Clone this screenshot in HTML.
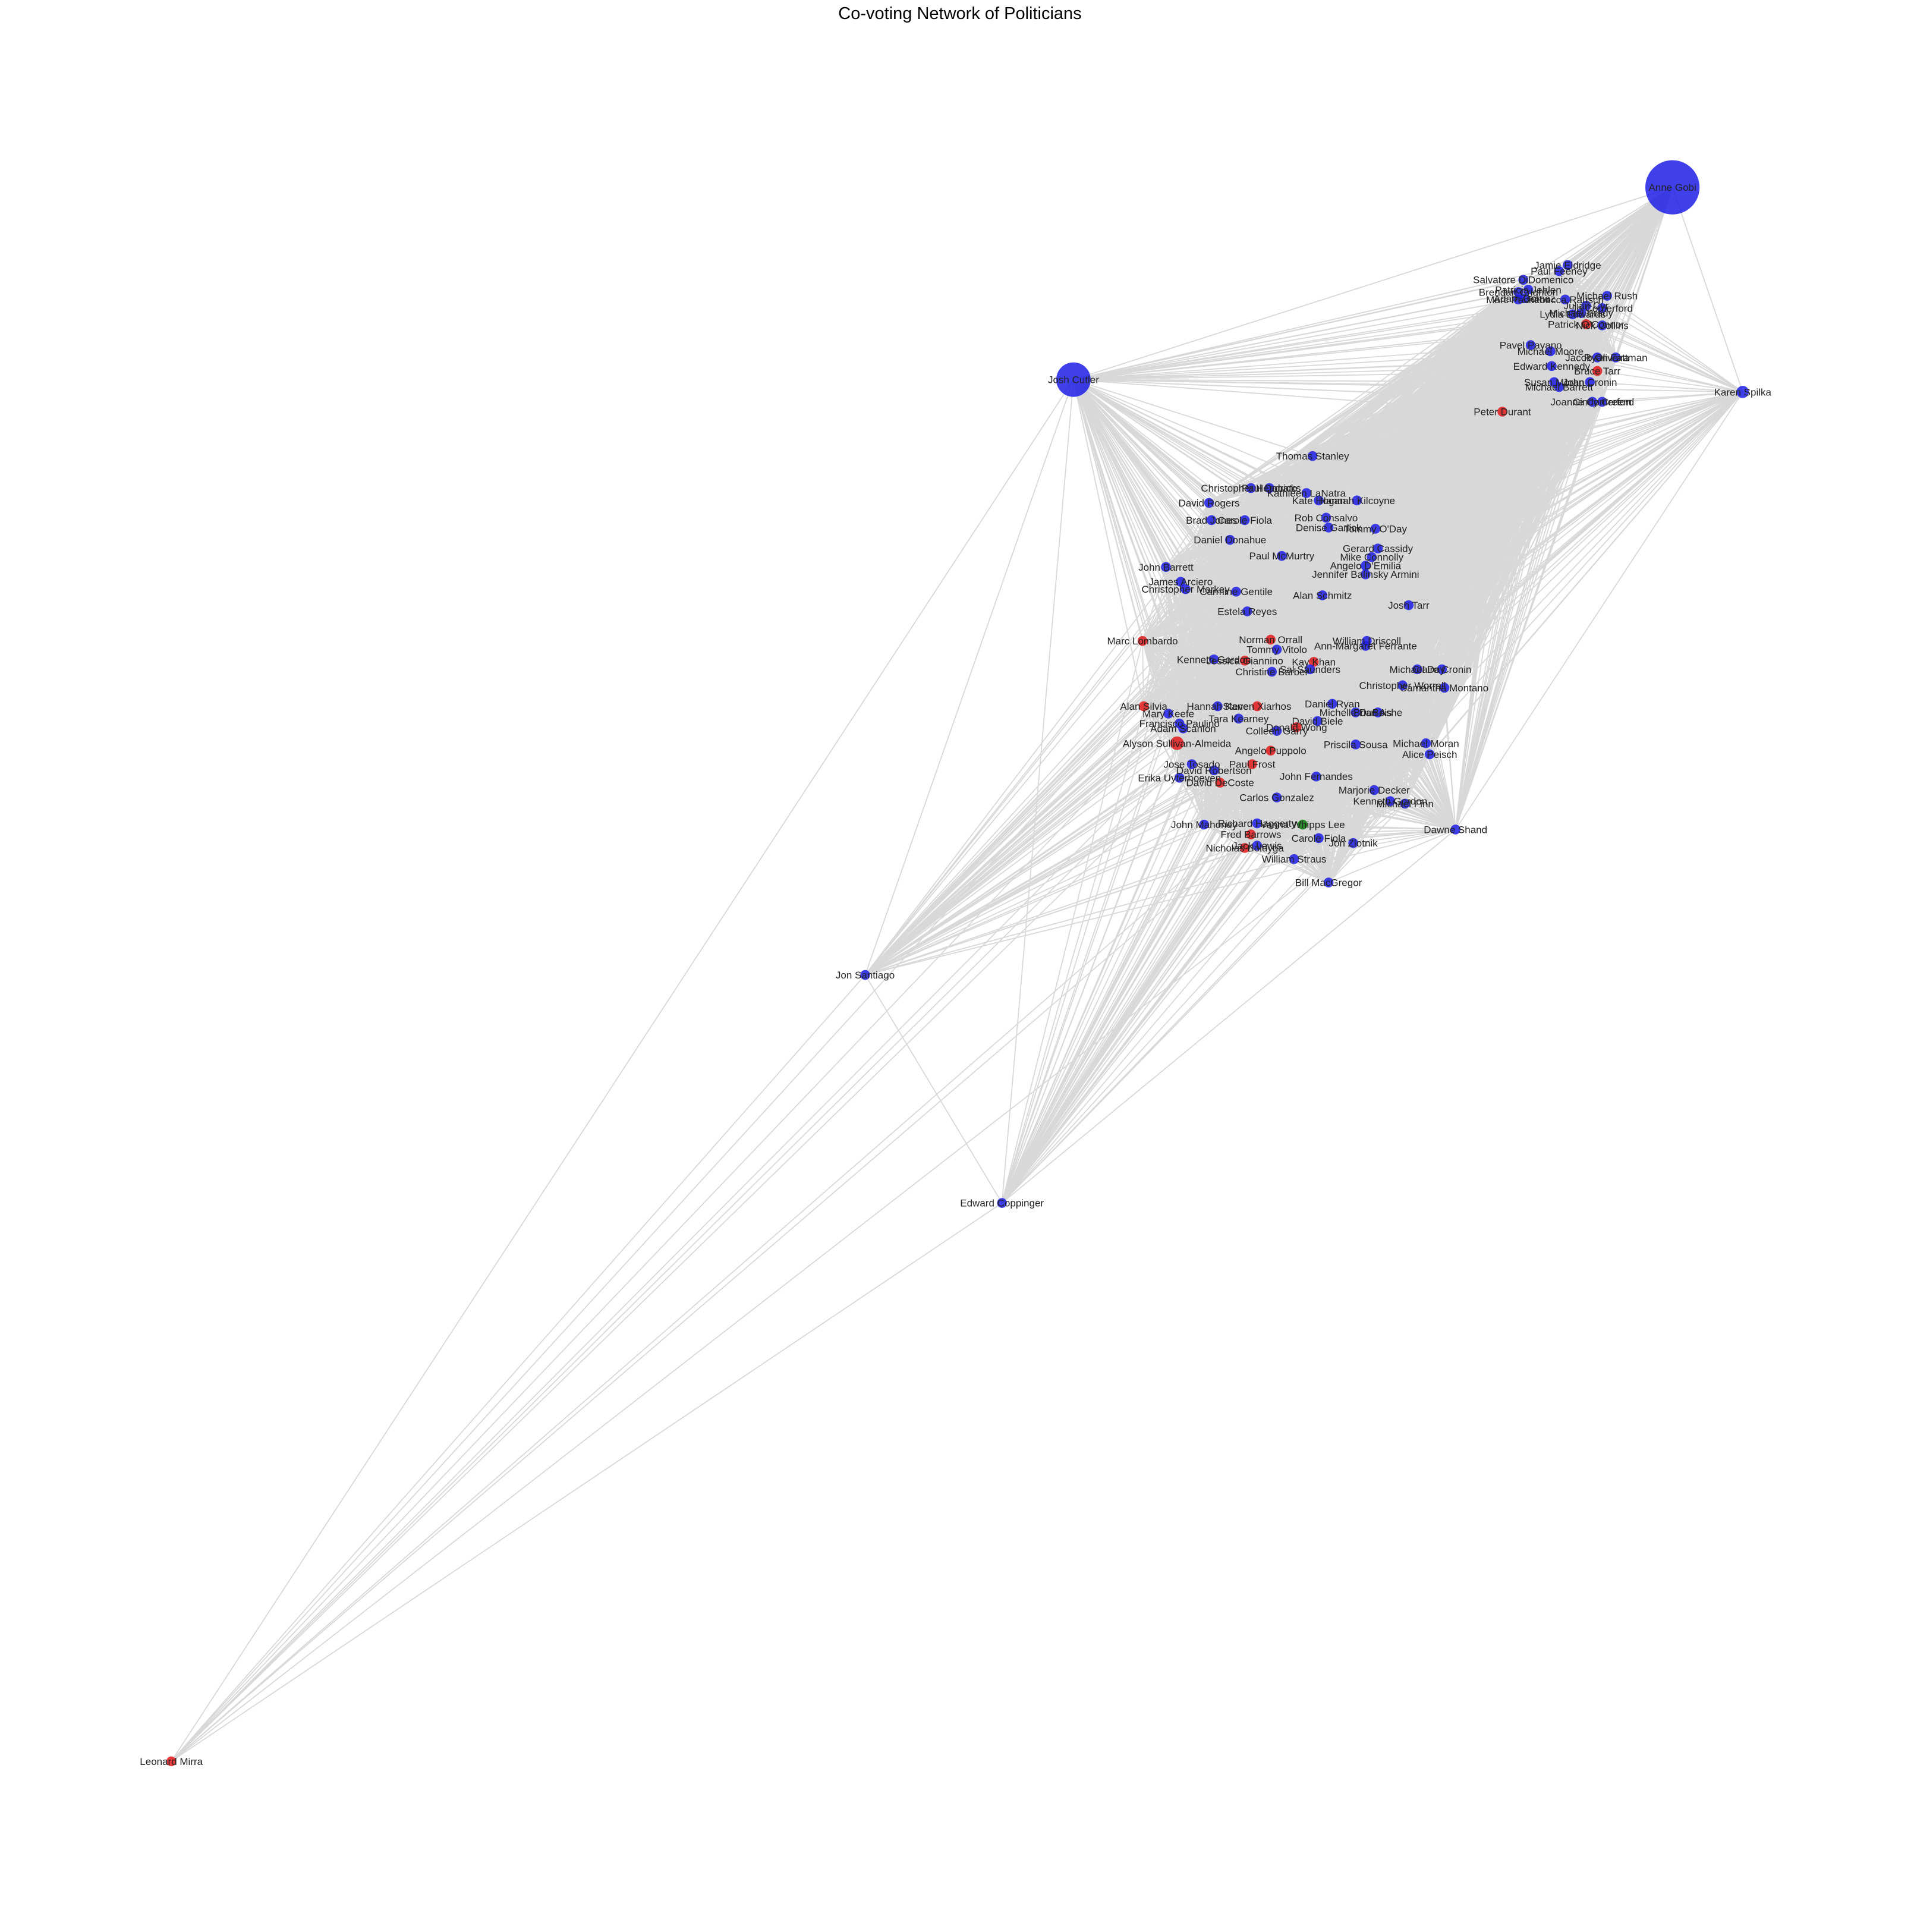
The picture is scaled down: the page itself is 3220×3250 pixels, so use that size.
<!DOCTYPE html>
<html><head><meta charset="utf-8"><style>
body{margin:0;background:#fff;}
svg{display:block;font-family:"Liberation Sans","DejaVu Sans",sans-serif;}
</style></head><body>
<svg id="chart" width="3220" height="3250" viewBox="0 0 3220 3250" xmlns="http://www.w3.org/2000/svg">
<rect width="3220" height="3250" fill="#fff"/>
<text x="1615" y="32" text-anchor="middle" font-size="29" fill="#000">Co-voting Network of Politicians</text>
<g id="edges"></g>
<g id="nodes"></g>
<g id="labels"></g>
</svg>
<script>
const S = 3220/1553;
const clusterNames = ["Salvatore DiDomenico","Patricia Jehlen","Adam Gomez","Brendan Crighton","Marc Pacheco","Jamie Eldridge","Paul Feeney","Rebecca Rausch","Michael Rush","Julian Cyr","Jo Comerford","Lydia Edwards","Michael Brady","Patrick O'Connor","Nick Collins","Pavel Payano","Michael Moore","Ryan Fattman","Jacob Oliveira","Edward Kennedy","Bruce Tarr","Susan Moran","John Cronin","Michael Barrett","Joanne Comerford","Cindy Creem","Peter Durant","Thomas Stanley","Christopher Hendricks","Paul Donato","Kathleen LaNatra","Kate Hogan","Hannah Kilcoyne","David Rogers","Brad Jones","Carole Fiola","Rob Consalvo","Denise Garlick","Tommy O'Day","Daniel Donahue","Gerard Cassidy","Mike Connolly","Paul McMurtry","Angelo D'Emilia","Jennifer Balinsky Armini","John Barrett","James Arciero","Christopher Markey","Carmine Gentile","Alan Schmitz","Josh Tarr","Estela Reyes","Marc Lombardo","Norman Orrall","Tommy Vitolo","William Driscoll","Ann-Margaret Ferrante","Kenneth Gordon","Jessica Giannino","Kay Khan","Christine Barber","Sal Saunders","Michael Day","Claire Cronin","Christopher Worrall","Samantha Montano","Daniel Ryan","Hannah Kane","Steven Xiarhos","Alan Silvia","Mary Keefe","Michelle DuBois","Brian Ashe","Tara Kearney","David Biele","Francisco Paulino","Adam Scanlon","Colleen Garry","Donald Wong","Alyson Sullivan-Almeida","Priscila Sousa","Michael Moran","Angelo Puppolo","Alice Peisch","Jose Tosado","David Robertson","Paul Frost","Erika Uyterhoeven","David DeCoste","John Fernandes","Carlos Gonzalez","Marjorie Decker","Kenneth Gordon Jr","Michael Finn","John Mahoney","Richard Haggerty","Vanna Whipps Lee","Fred Barrows","Jack Lewis","Carole Fiola Jr","Jon Zlotnik","Nicholas Boldyga","William Straus","Bill MacGregor","Dawne Shand"];
const clusterX = [1236,1240,1237,1232,1232,1272,1265,1270,1304,1287,1300,1276,1283,1287,1300,1242,1258,1311,1296,1259,1296,1261,1290,1265,1292,1300,1219,1065,1015,1030,1060,1070,1101,981,983,1010,1076,1078,1116,998,1118,1113,1040,1108,1108,946,958,962,1003,1073,1143,1012,927,1031,1036,1109,1108,985,1010,1066,1032,1063,1150,1170,1138,1172,1081,988,1020,928,948,1100,1118,1005,1069,957,960,1036,1052,955,1100,1157,1031,1160,967,985,1016,957,990,1068,1036,1115,1128,1140,977,1020,1057,1015,1020,1070,1098,1010,1050,1078,1181];
const clusterY = [227,235,242,237,243,215,220,243,240,248,250,255,254,263,264,280,285,290,290,297,301,310,310,314,326,326,334,370,396,396,400,406,406,408,422,422,420,428,429,438,445,452,451,459,466,460,472,478,480,483,491,496,520,519,527,520,524,535,536,537,545,543,543,543,556,558,571,573,573,573,579,578,578,583,585,587,591,593,590,603,604,603,609,612,620,625,620,631,635,630,647,641,650,652,669,668,669,677,686,680,684,688,697,716,673];
const clusterParty = "BBBBBBBBBBBBBRBBBBBBRBBBBBRBBBBBBBBBBBBBBBBBBBBBBBBBRRBBBBRRBBBBBBBBRRBBBBBBBBRRBBRBBBRBRBBBBBBBGRBBBRBBB";
const hubNames = ["Anne Gobi","Josh Cutler","Karen Spilka","Jon Santiago","Edward Coppinger","Leonard Mirra"];
const hubX = [1357,871,1414,702,813,139];
const hubY = [152,308,318,791,976,1429];
const hubParty = "BBBBBR";
const hubRadius = [22,14,5,4,4,4];
const hubLinks = [1.0,0.9,0.6,0.5,0.6,0.05];

const NS="http://www.w3.org/2000/svg";
const eg=document.getElementById('edges'), ng=document.getElementById('nodes'), lg=document.getElementById('labels');
const px=v=>v*S;
const colorOf=p=>p==='R'?'#e31a1c':(p==='G'?'#0a7a0a':'#1f1fe8');
let d='';
const n=clusterNames.length;
for(let i=0;i<n;i++)for(let j=i+1;j<n;j++){
  d+=`M${px(clusterX[i]).toFixed(1)} ${px(clusterY[i]).toFixed(1)}L${px(clusterX[j]).toFixed(1)} ${px(clusterY[j]).toFixed(1)}`;
}
for(let h=0;h<hubNames.length;h++){
  const step=Math.max(1,Math.round(1/hubLinks[h]));
  for(let i=0;i<n;i+=step) d+=`M${px(hubX[h]).toFixed(1)} ${px(hubY[h]).toFixed(1)}L${px(clusterX[i]).toFixed(1)} ${px(clusterY[i]).toFixed(1)}`;
}
for(let a=0;a<hubNames.length;a++)for(let b=a+1;b<hubNames.length;b++){
  if(a===5&&b!==3) continue;
  d+=`M${px(hubX[a])} ${px(hubY[a])}L${px(hubX[b])} ${px(hubY[b])}`;
}
const path=document.createElementNS(NS,'path');


path.setAttribute('d',d);path.setAttribute('stroke','#c8c8c8');path.setAttribute('stroke-width','1.8');path.setAttribute('stroke-opacity','0.7');path.setAttribute('fill','none');
eg.appendChild(path);

function addNode(name,x,y,party,r){
  const c=document.createElementNS(NS,'circle');
  
  
  c.setAttribute('cx',px(x));c.setAttribute('cy',px(y));c.setAttribute('r',px(r));
  c.setAttribute('fill',colorOf(party));c.setAttribute('fill-opacity','0.85');
  ng.appendChild(c);
  const t=document.createElementNS(NS,'text');
  
  
  t.setAttribute('x',px(x));t.setAttribute('y',px(y)+6);t.setAttribute('text-anchor','middle');
  t.setAttribute('font-size','17');t.setAttribute('fill','#222');
  t.textContent=name.replace(/ Jr$/,'');
  lg.appendChild(t);
}
for(let i=0;i<n;i++) addNode(clusterNames[i],clusterX[i],clusterY[i],clusterParty[i],clusterNames[i]==="Alyson Sullivan-Almeida"?5.5:4);
for(let h=0;h<hubNames.length;h++) addNode(hubNames[h],hubX[h],hubY[h],hubParty[h],hubRadius[h]);
</script>
</body></html>
